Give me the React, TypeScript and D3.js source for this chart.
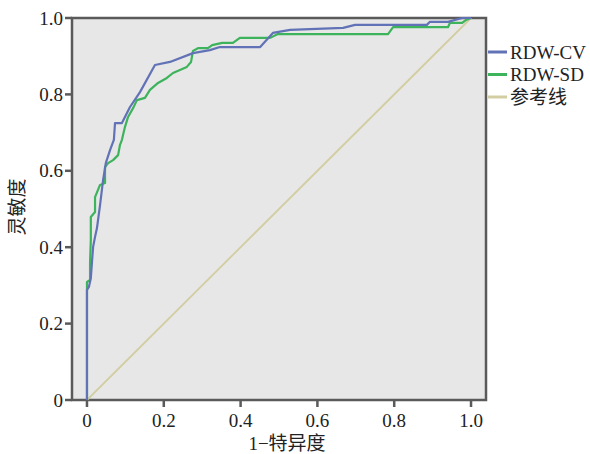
import React, { useEffect, useRef } from 'react';
import * as d3 from 'd3';

// ROC curve points (1 - specificity, sensitivity)
const cvFpr = [0, 0, 0.005, 0.010, 0.013, 0.016, 0.021, 0.026, 0.034, 0.042, 0.049, 0.060, 0.070, 0.073, 0.091, 0.112, 0.138, 0.177, 0.216, 0.276, 0.320, 0.346, 0.451, 0.484, 0.529, 0.667, 0.698, 0.885, 0.893, 0.940, 0.977, 1];
const cvTpr = [0, 0.288, 0.296, 0.319, 0.361, 0.401, 0.427, 0.450, 0.510, 0.576, 0.620, 0.654, 0.681, 0.725, 0.725, 0.767, 0.806, 0.877, 0.885, 0.908, 0.916, 0.924, 0.924, 0.961, 0.969, 0.974, 0.982, 0.982, 0.990, 0.990, 1, 1];

const sdFpr = [0, 0, 0.008, 0.008, 0.010, 0.010, 0.021, 0.021, 0.034, 0.047, 0.047, 0.055, 0.068, 0.081, 0.086, 0.091, 0.099, 0.107, 0.120, 0.130, 0.151, 0.164, 0.185, 0.208, 0.224, 0.260, 0.271, 0.276, 0.289, 0.315, 0.326, 0.352, 0.380, 0.398, 0.477, 0.497, 0.784, 0.797, 0.940, 0.945, 0.977, 0.987, 1];
const sdTpr = [0, 0.309, 0.314, 0.359, 0.419, 0.479, 0.492, 0.531, 0.563, 0.568, 0.610, 0.620, 0.628, 0.641, 0.668, 0.681, 0.715, 0.741, 0.764, 0.785, 0.791, 0.812, 0.830, 0.843, 0.856, 0.872, 0.885, 0.914, 0.921, 0.921, 0.929, 0.935, 0.935, 0.948, 0.948, 0.958, 0.958, 0.976, 0.976, 0.987, 0.987, 0.995, 1];

const refFpr = [0, 1];
const refTpr = [0, 1];

const xTicks = [0, 0.2, 0.4, 0.6, 0.8, 1.0];
const xTickLabels = ['0', '0.2', '0.4', '0.6', '0.8', '1.0'];
const yTicks = [0, 0.2, 0.4, 0.6, 0.8, 1.0];
const yTickLabels = ['0', '0.2', '0.4', '0.6', '0.8', '1.0'];

const seriesNames = ['RDW-CV', 'RDW-SD', '参考线'];
const seriesColors = ['#6272b6', '#3db35c', '#d3cda2'];

const W = 590;
const H = 454;
const FONT = "'Liberation Serif', 'DejaVu Serif', 'Noto Sans CJK SC', serif";

export default function App() {
  const ref = useRef<SVGSVGElement>(null);

  useEffect(() => {
    const svg = d3.select(ref.current).html('');

    const x = d3.scaleLinear().domain([-0.039, 1.039]).range([72, 486]);
    const y = d3.scaleLinear().domain([0, 1]).range([400, 18]);

    svg.append('rect').attr('width', W).attr('height', H).attr('fill', '#ffffff');

    // plot area
    svg.append('rect')
      .attr('x', x(-0.039)).attr('y', y(1))
      .attr('width', x(1.039) - x(-0.039)).attr('height', y(0) - y(1))
      .attr('fill', '#e7e7e7')
      .attr('stroke', '#5a5a5a')
      .attr('stroke-width', 2.5);

    const line = d3.line<[number, number]>().x(d => x(d[0])).y(d => y(d[1]));
    const series: [number[], number[]][] = [[cvFpr, cvTpr], [sdFpr, sdTpr], [refFpr, refTpr]];

    // reference line under the curves
    [2, 1, 0].forEach(i => {
      const [fx, ty] = series[i];
      const pts = fx.map((v, k) => [v, ty[k]] as [number, number]);
      svg.append('path')
        .attr('d', line(pts))
        .attr('fill', 'none')
        .attr('stroke', seriesColors[i])
        .attr('stroke-width', i === 2 ? 1.8 : 2.2)
        .attr('stroke-linejoin', 'round');
    });

    // y axis ticks
    const yg = svg.append('g');
    yTicks.forEach((t, i) => {
      yg.append('line')
        .attr('x1', 65).attr('x2', 72)
        .attr('y1', y(t)).attr('y2', y(t))
        .attr('stroke', '#5a5a5a').attr('stroke-width', 2.5);
      yg.append('text')
        .attr('x', 63).attr('y', y(t))
        .attr('dy', '0.35em')
        .attr('text-anchor', 'end')
        .style('font-family', FONT).style('font-size', '19px')
        .attr('fill', '#222')
        .text(yTickLabels[i]);
    });

    // x axis ticks
    const xg = svg.append('g');
    xTicks.forEach((t, i) => {
      xg.append('line')
        .attr('x1', x(t)).attr('x2', x(t))
        .attr('y1', 400).attr('y2', 407)
        .attr('stroke', '#5a5a5a').attr('stroke-width', 2.5);
      xg.append('text')
        .attr('x', x(t)).attr('y', 427)
        .attr('text-anchor', 'middle')
        .style('font-family', FONT).style('font-size', '19px')
        .attr('fill', '#222')
        .text(xTickLabels[i]);
    });

    // axis titles
    svg.append('text')
      .attr('x', 287).attr('y', 450)
      .attr('text-anchor', 'middle')
      .style('font-family', FONT).style('font-size', '19px')
      .attr('fill', '#222')
      .text('1−特异度');

    svg.append('text')
      .attr('transform', 'translate(24,207) rotate(-90)')
      .attr('text-anchor', 'middle')
      .style('font-family', FONT).style('font-size', '19px')
      .attr('fill', '#222')
      .text('灵敏度');

    // legend
    const lg = svg.append('g');
    seriesNames.forEach((name, i) => {
      const ly = 52 + i * 22.5;
      lg.append('line')
        .attr('x1', 488).attr('x2', 507)
        .attr('y1', ly).attr('y2', ly)
        .attr('stroke', seriesColors[i]).attr('stroke-width', 3);
      lg.append('text')
        .attr('x', 510).attr('y', ly)
        .attr('dy', '0.35em')
        .style('font-family', FONT).style('font-size', '19px')
        .attr('fill', '#222')
        .text(name);
    });
  }, []);

  return (
    <svg
      ref={ref}
      width={W}
      height={H}
      style={{ position: 'absolute', left: 0, top: 0, display: 'block' }}
    />
  );
}
